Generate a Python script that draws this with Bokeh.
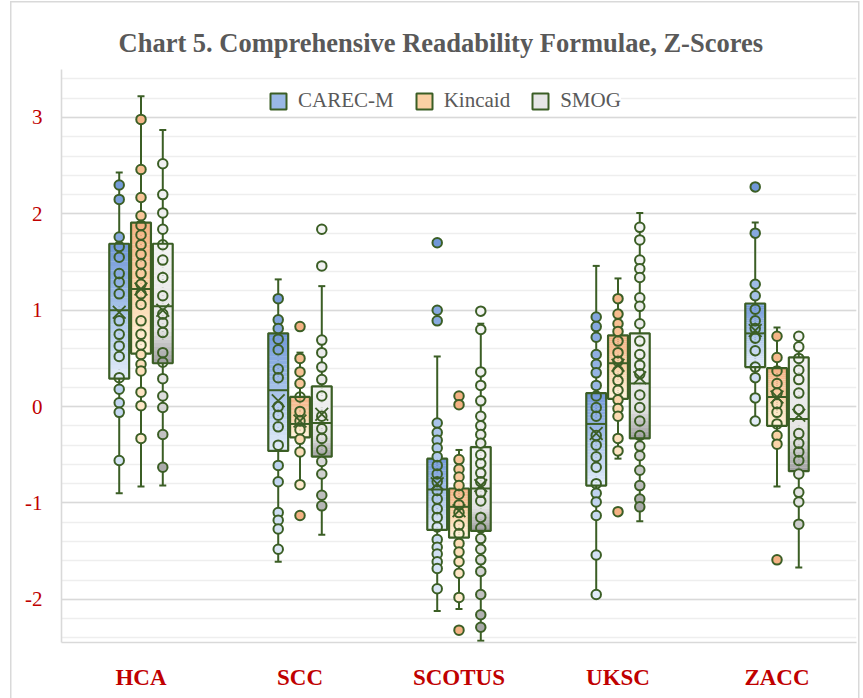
import numpy as np
from bokeh.plotting import figure
from bokeh.models import ColumnDataSource, Range1d, FixedTicker, Legend, LegendItem
from bokeh.embed import file_html
from bokeh.resources import INLINE

# ---------------- data ----------------
categories = ["HCA", "SCC", "SCOTUS", "UKSC", "ZACC"]
series_names = ["CAREC-M", "Kincaid", "SMOG"]
y_ticks = [-2, -1, 0, 1, 2, 3]
y_tick_labels = ["-2", "-1", "0", "1", "2", "3"]

# CAREC-M points per court
carec_hca = [2.30, 2.15, 1.76, 1.66, 1.55, 1.38, 1.29, 1.17, 0.89, 0.75, 0.63, 0.52, 0.30, 0.18, 0.04, -0.06, -0.56]
carec_scc = [1.12, 0.90, 0.81, 0.70, 0.59, 0.39, 0.30, 0.00, -0.09, -0.21, -0.40, -0.61, -0.78, -1.10, -1.18, -1.27, -1.48]
carec_scotus = [1.70, 1.00, 0.89, -0.17, -0.27, -0.35, -0.43, -0.52, -0.61, -0.70, -0.78, -0.87, -0.96, -1.06, -1.15,
                -1.25, -1.38, -1.46, -1.53, -1.61, -1.68, -1.89]
carec_uksc = [0.93, 0.83, 0.72, 0.54, 0.44, 0.35, 0.22, 0.11, -0.01, -0.10, -0.30, -0.40, -0.52, -0.63, -0.80, -0.90,
              -0.99, -1.13, -1.54, -1.95]
carec_zacc = [2.28, 1.80, 1.27, 1.15, 1.01, 0.89, 0.81, 0.71, 0.58, 0.41, 0.30, 0.09, -0.15]
carec_q1 = [0.29, -0.46, -1.28, -0.82, 0.41]
carec_median = [1.00, 0.17, -0.86, -0.18, 0.76]
carec_q3 = [1.69, 0.76, -0.54, 0.14, 1.07]
carec_mean = [0.98, 0.06, -0.80, -0.28, 0.79]
carec_whisker_low = [-0.90, -1.61, -2.12, -1.96, -0.15]
carec_whisker_high = [2.43, 1.32, 0.52, 1.46, 1.91]

# Kincaid points per court
kincaid_hca = [2.98, 2.46, 2.17, 1.98, 1.88, 1.78, 1.68, 1.58, 1.48, 1.38, 1.27, 1.17, 1.06, 0.89, 0.75, 0.64, 0.54,
               0.44, 0.37, 0.15, 0.01, -0.33]
kincaid_scc = [0.83, 0.50, 0.36, 0.24, 0.10, -0.05, -0.15, -0.24, -0.34, -0.47, -0.81, -1.13]
kincaid_scotus = [0.11, 0.02, -0.55, -0.65, -0.73, -0.82, -0.91, -1.02, -1.10, -1.23, -1.32, -1.42, -1.51, -1.61,
                  -1.73, -1.98, -2.32]
kincaid_uksc = [1.12, 0.96, 0.86, 0.78, 0.68, 0.56, 0.47, 0.37, 0.27, 0.17, 0.07, -0.02, -0.10, -0.33, -0.46, -1.09]
kincaid_zacc = [0.73, 0.51, 0.37, 0.24, 0.14, 0.03, -0.06, -0.18, -0.30, -0.39, -1.59]
kincaid_q1 = [0.55, -0.32, -1.36, 0.08, -0.20]
kincaid_median = [1.22, -0.18, -1.04, 0.45, 0.10]
kincaid_q3 = [1.91, 0.10, -0.85, 0.74, 0.40]
kincaid_mean = [1.22, -0.15, -1.08, 0.43, 0.10]
kincaid_whisker_low = [-0.83, -0.81, -2.10, -0.54, -0.83]
kincaid_whisker_high = [3.22, 0.56, -0.45, 1.33, 0.82]

# SMOG points per court
smog_hca = [2.52, 2.20, 2.01, 1.84, 1.68, 1.52, 1.34, 1.15, 0.96, 0.87, 0.77, 0.56, 0.46, 0.29, 0.11, -0.01, -0.29,
            -0.63]
smog_scc = [1.84, 1.46, 0.69, 0.56, 0.41, 0.28, 0.11, -0.10, -0.23, -0.33, -0.45, -0.57, -0.70, -0.92, -1.03]
smog_scotus = [0.99, 0.80, 0.36, 0.22, 0.06, -0.10, -0.20, -0.29, -0.38, -0.50, -0.59, -0.69, -0.78, -0.89, -0.98,
               -1.15, -1.26, -1.37, -1.48, -1.59, -1.71, -1.95, -2.16, -2.29]
smog_uksc = [1.86, 1.73, 1.52, 1.43, 1.34, 1.13, 1.04, 0.86, 0.68, 0.54, 0.43, 0.34, 0.12, -0.01, -0.15, -0.30, -0.41,
             -0.51, -0.66, -0.82, -0.96, -1.04]
smog_zacc = [0.73, 0.62, 0.50, 0.38, 0.28, 0.14, -0.03, -0.28, -0.38, -0.47, -0.56, -0.70, -0.89, -0.99, -1.22]
smog_q1 = [0.45, -0.52, -1.29, -0.33, -0.67]
smog_median = [1.04, -0.17, -0.85, 0.24, -0.13]
smog_q3 = [1.69, 0.21, -0.42, 0.76, 0.51]
smog_mean = [1.00, -0.08, -0.82, 0.30, -0.09]
smog_whisker_low = [-0.82, -1.33, -2.43, -1.19, -1.67]
smog_whisker_high = [2.87, 1.25, 0.86, 2.01, 0.73]

# ---------------- styling ----------------
GREEN = "#3b5e25"
GRID_MAJOR = "#d9d9d9"
GRID_MINOR = "#eeeeee"
RED = "#c00000"
GREY_TEXT = "#595959"
SERIF = "Liberation Serif"

gradients = [
    [(0.0, "#7097d8"), (0.5, "#a9c4ea"), (1.0, "#e2ecf8")],   # CAREC-M (top -> bottom)
    [(0.0, "#f4b183"), (0.5, "#fbd4a9"), (1.0, "#fff3db")],   # Kincaid
    [(0.0, "#f3f3f3"), (0.72, "#e3e3e3"), (1.0, "#9d9d9d")],  # SMOG
]
legend_fill = ["#9ab8e6", "#fad0a4", "#e6e6e6"]
outlier_fill = [None, "#f4b183", None]
offsets = [-0.137, 0.0, 0.137]
box_w = 0.125
cap_half = 0.022


def hex2rgb(h):
    h = h.lstrip("#")
    return [int(h[k:k + 2], 16) for k in (0, 2, 4)]


def grad_color(stops, t):
    t = min(max(t, 0.0), 1.0)
    for (t0, c0), (t1, c1) in zip(stops[:-1], stops[1:]):
        if t <= t1:
            f = 0 if t1 == t0 else (t - t0) / (t1 - t0)
            a, b = hex2rgb(c0), hex2rgb(c1)
            return "#%02x%02x%02x" % tuple(int(round(a[k] + (b[k] - a[k]) * f)) for k in range(3))
    return stops[-1][1]


all_series = [
    ([carec_hca, carec_scc, carec_scotus, carec_uksc, carec_zacc],
     carec_q1, carec_median, carec_q3, carec_mean, carec_whisker_low, carec_whisker_high),
    ([kincaid_hca, kincaid_scc, kincaid_scotus, kincaid_uksc, kincaid_zacc],
     kincaid_q1, kincaid_median, kincaid_q3, kincaid_mean, kincaid_whisker_low, kincaid_whisker_high),
    ([smog_hca, smog_scc, smog_scotus, smog_uksc, smog_zacc],
     smog_q1, smog_median, smog_q3, smog_mean, smog_whisker_low, smog_whisker_high),
]

p = figure(width=863, height=698, x_range=Range1d(-0.5, 4.5), y_range=Range1d(-2.448, 3.498),
           output_backend="svg", toolbar_location=None,
           min_border_left=61, min_border_right=7, min_border_top=69, min_border_bottom=56)
p.outline_line_color = None
p.background_fill_color = "white"
p.border_fill_color = None
# light chart-area border drawn behind the (transparent) canvas border area
_line = "linear-gradient(#d9d9d9, #d9d9d9)"
p.styles = {
    "background-color": "white",
    "background-image": ", ".join([_line] * 3),
    "background-size": "1.5px 697px, 849px 1.5px, 1.5px 697px",
    "background-position": "10px 1px, 10px 1px, 858px 1px",
    "background-repeat": "no-repeat",
}

# grid
minor = [round(-2.4 + 0.2 * k, 1) for k in range(30)]
p.xgrid.visible = False
p.ygrid.ticker = FixedTicker(ticks=y_ticks, minor_ticks=minor)
p.ygrid.grid_line_color = GRID_MAJOR
p.ygrid.grid_line_width = 1.6
p.ygrid.minor_grid_line_color = GRID_MINOR
p.ygrid.minor_grid_line_width = 1.6

# axes
p.yaxis.ticker = FixedTicker(ticks=y_ticks)
p.yaxis.major_label_overrides = {t: l for t, l in zip(y_ticks, y_tick_labels)}
p.xaxis.ticker = FixedTicker(ticks=list(range(len(categories))))
p.xaxis.major_label_overrides = {i: c for i, c in enumerate(categories)}
for ax in (p.xaxis, p.yaxis):
    ax.axis_line_color = GRID_MAJOR
    ax.axis_line_width = 1.6
    ax.major_tick_line_color = None
    ax.minor_tick_line_color = None
    ax.major_label_text_font = SERIF
    ax.major_label_text_color = RED
p.yaxis.major_label_text_font_size = "21px"
p.yaxis.major_label_standoff = 13
p.xaxis.major_label_text_font_size = "23px"
p.xaxis.major_label_text_font_style = "bold"
p.xaxis.major_label_standoff = 16

# title
p.title.text = "Chart 5. Comprehensive Readability Formulae, Z-Scores"
p.title.align = "left"
p.title.offset = 57
p.title.text_font = SERIF
p.title.text_font_style = "bold"
p.title.text_font_size = "26.5px"
p.title.text_color = GREY_TEXT
p.title.standoff = 23

legend_items = []
for j, (pts, q1, med, q3, mean, wlo, whi) in enumerate(all_series):
    stops = gradients[j]
    xs = [i + offsets[j] for i in range(len(categories))]

    # whiskers and caps
    p.segment(x0=xs, y0=wlo, x1=xs, y1=whi, line_color=GREEN, line_width=2)
    p.segment(x0=[x - cap_half for x in xs] * 2, y0=wlo + whi, x1=[x + cap_half for x in xs] * 2, y1=wlo + whi,
              line_color=GREEN, line_width=2)

    # gradient boxes
    nsl = 30
    L, R, T, B, C = [], [], [], [], []
    for i, x in enumerate(xs):
        for k in range(nsl):
            top = q3[i] - (q3[i] - q1[i]) * k / nsl
            bot = q3[i] - (q3[i] - q1[i]) * (k + 1) / nsl
            L.append(x - box_w / 2)
            R.append(x + box_w / 2)
            T.append(top + 0.002)
            B.append(bot)
            C.append(grad_color(stops, (k + 0.5) / nsl))
    p.quad(source=ColumnDataSource(dict(left=L, right=R, top=T, bottom=B, color=C)),
           left="left", right="right", top="top", bottom="bottom", fill_color="color", line_color=None)
    p.quad(left=[x - box_w / 2 for x in xs], right=[x + box_w / 2 for x in xs], top=q3, bottom=q1,
           fill_alpha=0, line_color=GREEN, line_width=2.2)
    # median
    p.segment(x0=[x - box_w / 2 for x in xs], y0=med, x1=[x + box_w / 2 for x in xs], y1=med,
              line_color=GREEN, line_width=2)

    # points
    px, py, pc, pa = [], [], [], []
    for i, x in enumerate(xs):
        vals = pts[i]
        gmin, gmax = min(vals + [wlo[i]]), max(vals + [whi[i]])
        for v in vals:
            px.append(x)
            py.append(v)
            outl = v < wlo[i] - 1e-9 or v > whi[i] + 1e-9
            if outl and outlier_fill[j]:
                pc.append(outlier_fill[j])
            else:
                pc.append(grad_color(stops, (gmax - v) / (gmax - gmin)))
            inside = q1[i] <= v <= q3[i]
            pa.append(0.0 if inside else 1.0)
    p.scatter(source=ColumnDataSource(dict(x=px, y=py, c=pc, a=pa)), x="x", y="y", marker="circle", size=9.5,
              fill_color="c", fill_alpha="a", line_color=GREEN, line_width=2)

    # mean
    p.scatter(x=xs, y=mean, marker="x", size=18, line_color=GREEN, line_width=1.8)

    # legend proxy (not drawn in the plot: NaN coordinates)
    r = p.quad(left=[np.nan], right=[np.nan], top=[np.nan], bottom=[np.nan],
               fill_color=legend_fill[j], line_color=GREEN, line_width=2)
    legend_items.append(LegendItem(label=series_names[j], renderers=[r]))

legend = Legend(items=legend_items, orientation="horizontal", location=(207, 529),
                label_text_font=SERIF, label_text_font_size="21px", label_text_color=GREY_TEXT,
                glyph_width=20, glyph_height=20, spacing=20, padding=14, label_standoff=10,
                border_line_color=None, background_fill_color="white", background_fill_alpha=1.0, margin=0)
p.add_layout(legend)

open("out.html", "w").write(file_html(p, INLINE))
